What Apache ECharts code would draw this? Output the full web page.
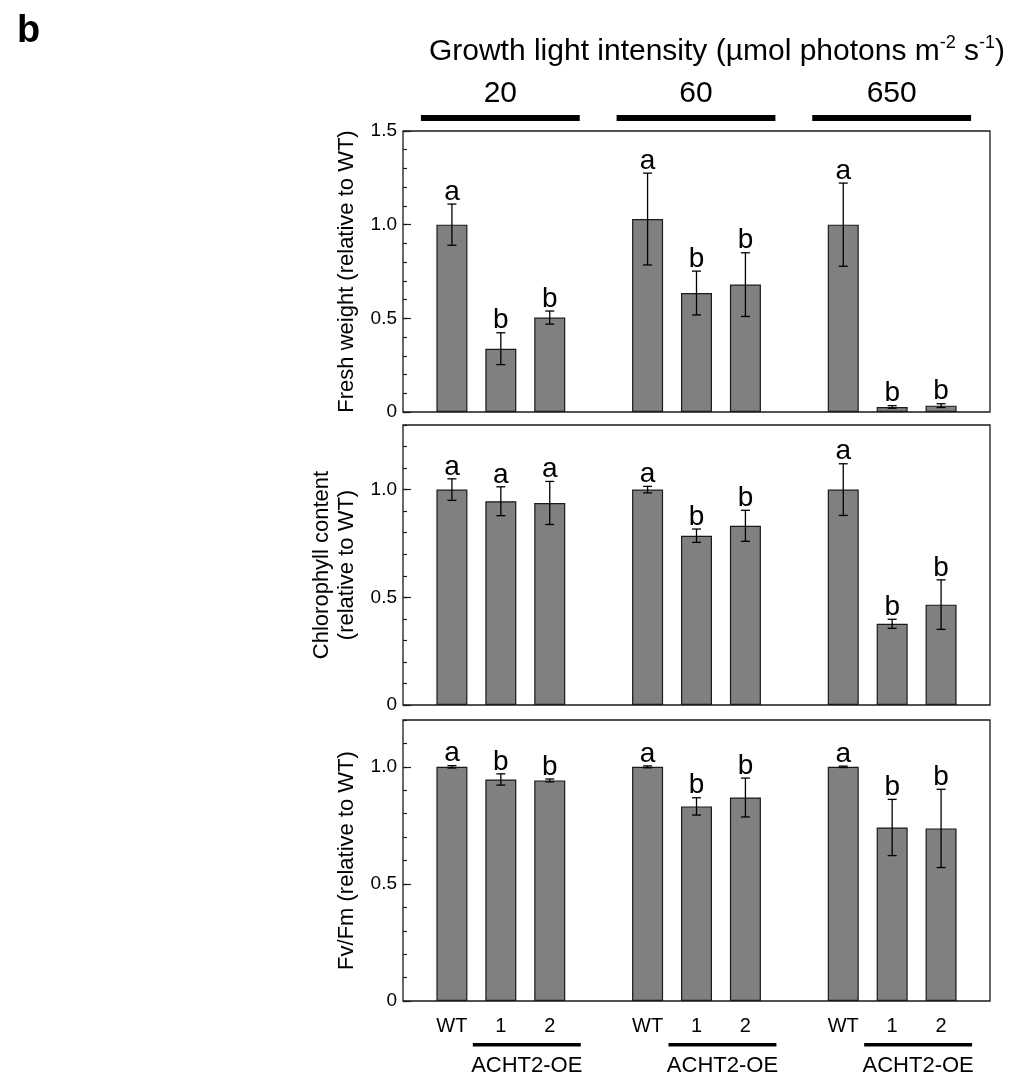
<!DOCTYPE html>
<html><head><meta charset="utf-8">
<script src="https://cdn.jsdelivr.net/npm/echarts@6/dist/echarts.min.js"></script>
<style>html,body{margin:0;padding:0;background:#fff}#c{width:1016px;height:1077px}</style>
</head><body><div id="c"></div>
<script>
// ---- data ----
const intensities = ['20', '60', '650'];
const lines = ['WT', '1', '2'];
const groupLabel = 'ACHT2-OE';
const freshMean = [1.00, 0.338, 0.504, 1.03, 0.635, 0.680, 1.00, 0.027, 0.034];
const freshErr  = [0.11, 0.085, 0.035, 0.245, 0.117, 0.17, 0.222, 0.007, 0.010];
const freshSig  = ['a', 'b', 'b', 'a', 'b', 'b', 'a', 'b', 'b'];
const chlMean = [1.00, 0.946, 0.938, 1.00, 0.786, 0.832, 1.00, 0.377, 0.466];
const chlErr  = [0.05, 0.067, 0.10, 0.015, 0.031, 0.072, 0.12, 0.021, 0.115];
const chlSig  = ['a', 'a', 'a', 'a', 'b', 'b', 'a', 'b', 'b'];
const fvMean = [1.00, 0.946, 0.942, 1.00, 0.831, 0.869, 1.00, 0.741, 0.737];
const fvErr  = [0.005, 0.024, 0.006, 0.004, 0.037, 0.083, 0.003, 0.12, 0.167];
const fvSig  = ['a', 'b', 'b', 'a', 'b', 'b', 'a', 'b', 'b'];
const yMax = [1.5, 1.3, 1.2];
const yNames = ['Fresh weight (relative to WT)', 'Chlorophyll content\n(relative to WT)', 'Fv/Fm (relative to WT)'];
const yNameGaps = [41, 33, 41];
const titleText = 'Growth light intensity (µmol photons m{sup|-2} s{sup|-1})';

// ---- build ----
const FONT = 'Liberation Sans, Arial, Helvetica, sans-serif';
const categories = [''];
intensities.forEach(() => { lines.forEach(l => categories.push(l)); categories.push(''); });
const idxOf = (k) => Math.floor(k / 3) * 4 + (k % 3) + 1;

const panels = [
  { mean: freshMean, err: freshErr, sig: freshSig },
  { mean: chlMean, err: chlErr, sig: chlSig },
  { mean: fvMean, err: fvErr, sig: fvSig }
];
const gridTops = [131, 425, 720];
const gridH = [281, 280, 281];

const grid = [], xAxis = [], yAxis = [], series = [];
panels.forEach((p, i) => {
  grid.push({ left: 403, right: 26, top: gridTops[i], height: gridH[i], show: true,
    borderColor: '#1a1a1a', borderWidth: 1.3, backgroundColor: 'transparent' });
  xAxis.push({ type: 'category', gridIndex: i, data: categories, boundaryGap: false,
    axisLine: { show: false }, axisTick: { show: false },
    axisLabel: { show: i === 2, interval: 0, color: '#000', fontSize: 20, fontFamily: FONT, margin: 15 } });
  // major axis
  yAxis.push({ type: 'value', gridIndex: i, position: 'left', min: 0, max: yMax[i], interval: 0.5,
    axisLine: { show: false }, splitLine: { show: false },
    axisTick: { show: true, inside: true, length: 8, lineStyle: { color: '#1a1a1a', width: 1.2 } },
    axisLabel: { color: '#000', fontSize: 19, fontFamily: FONT, margin: 6, showMaxLabel: i === 0,
      formatter: v => v === 0 ? '0' : v.toFixed(1) },
    name: yNames[i], nameLocation: 'middle', nameRotate: 90, nameGap: yNameGaps[i],
    nameTextStyle: { color: '#000', fontSize: 22, fontFamily: FONT, lineHeight: 25 } });
  // minor axis
  yAxis.push({ type: 'value', gridIndex: i, position: 'left', min: 0, max: yMax[i], interval: 0.1,
    axisLine: { show: false }, splitLine: { show: false }, axisLabel: { show: false },
    axisTick: { show: true, inside: true, length: 4, lineStyle: { color: '#1a1a1a', width: 1.2 } } });

  const barData = categories.map(() => '-');
  const errData = [];
  p.mean.forEach((m, k) => { barData[idxOf(k)] = m; errData.push([idxOf(k), m, p.err[k]]); });
  series.push({ type: 'bar', xAxisIndex: i, yAxisIndex: i * 2, data: barData, barWidth: 31, z: 2,
    itemStyle: { color: '#808080', borderColor: '#1a1a1a', borderWidth: 1.2 }, silent: true, animation: false });
  const sig = p.sig;
  series.push({ type: 'custom', xAxisIndex: i, yAxisIndex: i * 2, data: errData, clip: false, animation: false, silent: true, z: 10,
    renderItem: (params, api) => {
      const x = api.value(0), m = api.value(1), e = api.value(2);
      const t = api.coord([x, m + e]), b = api.coord([x, m - e]);
      const cap = 4.5, st = { stroke: '#000', lineWidth: 1.3 };
      return { type: 'group', children: [
        { type: 'line', shape: { x1: t[0], y1: t[1], x2: b[0], y2: b[1] }, style: st },
        { type: 'line', shape: { x1: t[0] - cap, y1: t[1], x2: t[0] + cap, y2: t[1] }, style: st },
        { type: 'line', shape: { x1: b[0] - cap, y1: b[1], x2: b[0] + cap, y2: b[1] }, style: st },
        { type: 'text', style: { x: t[0], y: t[1] + 2, text: sig[params.dataIndex], fill: '#000',
          font: '28px ' + FONT, textAlign: 'center', textVerticalAlign: 'bottom' } }
      ] };
    } });
});

// group annotations: top intensity bars and bottom ACHT2-OE lines
series.push({ type: 'custom', xAxisIndex: 0, yAxisIndex: 0, data: [[0, 0]], clip: false, animation: false, silent: true,
  renderItem: (params, api) => {
    const cs = params.coordSys, ch = [];
    intensities.forEach((lab, g) => {
      const x1 = api.coord([g * 4 + 1, 0])[0] - 31, x2 = api.coord([g * 4 + 3, 0])[0] + 30;
      ch.push({ type: 'rect', shape: { x: x1, y: cs.y - 16, width: x2 - x1, height: 6 }, style: { fill: '#000' } });
      ch.push({ type: 'text', style: { x: (x1 + x2) / 2, y: cs.y - 37, text: lab, fill: '#000',
        font: '30px ' + FONT, textAlign: 'center', textVerticalAlign: 'middle' } });
    });
    return { type: 'group', children: ch };
  } });
series.push({ type: 'custom', xAxisIndex: 2, yAxisIndex: 4, data: [[0, 0]], clip: false, animation: false, silent: true,
  renderItem: (params, api) => {
    const cs = params.coordSys, ch = [], yb = cs.y + cs.height;
    intensities.forEach((lab, g) => {
      const x1 = api.coord([g * 4 + 2, 0])[0] - 28, x2 = api.coord([g * 4 + 3, 0])[0] + 31;
      ch.push({ type: 'rect', shape: { x: x1, y: yb + 42, width: x2 - x1, height: 3.5 }, style: { fill: '#000' } });
      ch.push({ type: 'text', style: { x: (x1 + x2) / 2, y: yb + 65, text: groupLabel, fill: '#000',
        font: '22px ' + FONT, textAlign: 'center', textVerticalAlign: 'middle' } });
    });
    return { type: 'group', children: ch };
  } });

const chart = echarts.init(document.getElementById('c'), null, { renderer: 'canvas' });
chart.setOption({
  backgroundColor: '#fff',
  animation: false,
  title: [
    { text: 'b', left: 12, top: 8, textStyle: { fontSize: 38, fontWeight: 'bold', color: '#000', fontFamily: FONT } },
    { text: titleText, left: 712, top: 29, textAlign: 'center',
      textStyle: { fontSize: 30, fontWeight: 'normal', color: '#000', fontFamily: FONT, lineHeight: 36,
        rich: { sup: { fontSize: 18, fontFamily: FONT, color: '#000', verticalAlign: 'top', lineHeight: 36, padding: [0, 0, 14, 0] } } } }
  ],
  grid, xAxis, yAxis, series
});
</script></body></html>
